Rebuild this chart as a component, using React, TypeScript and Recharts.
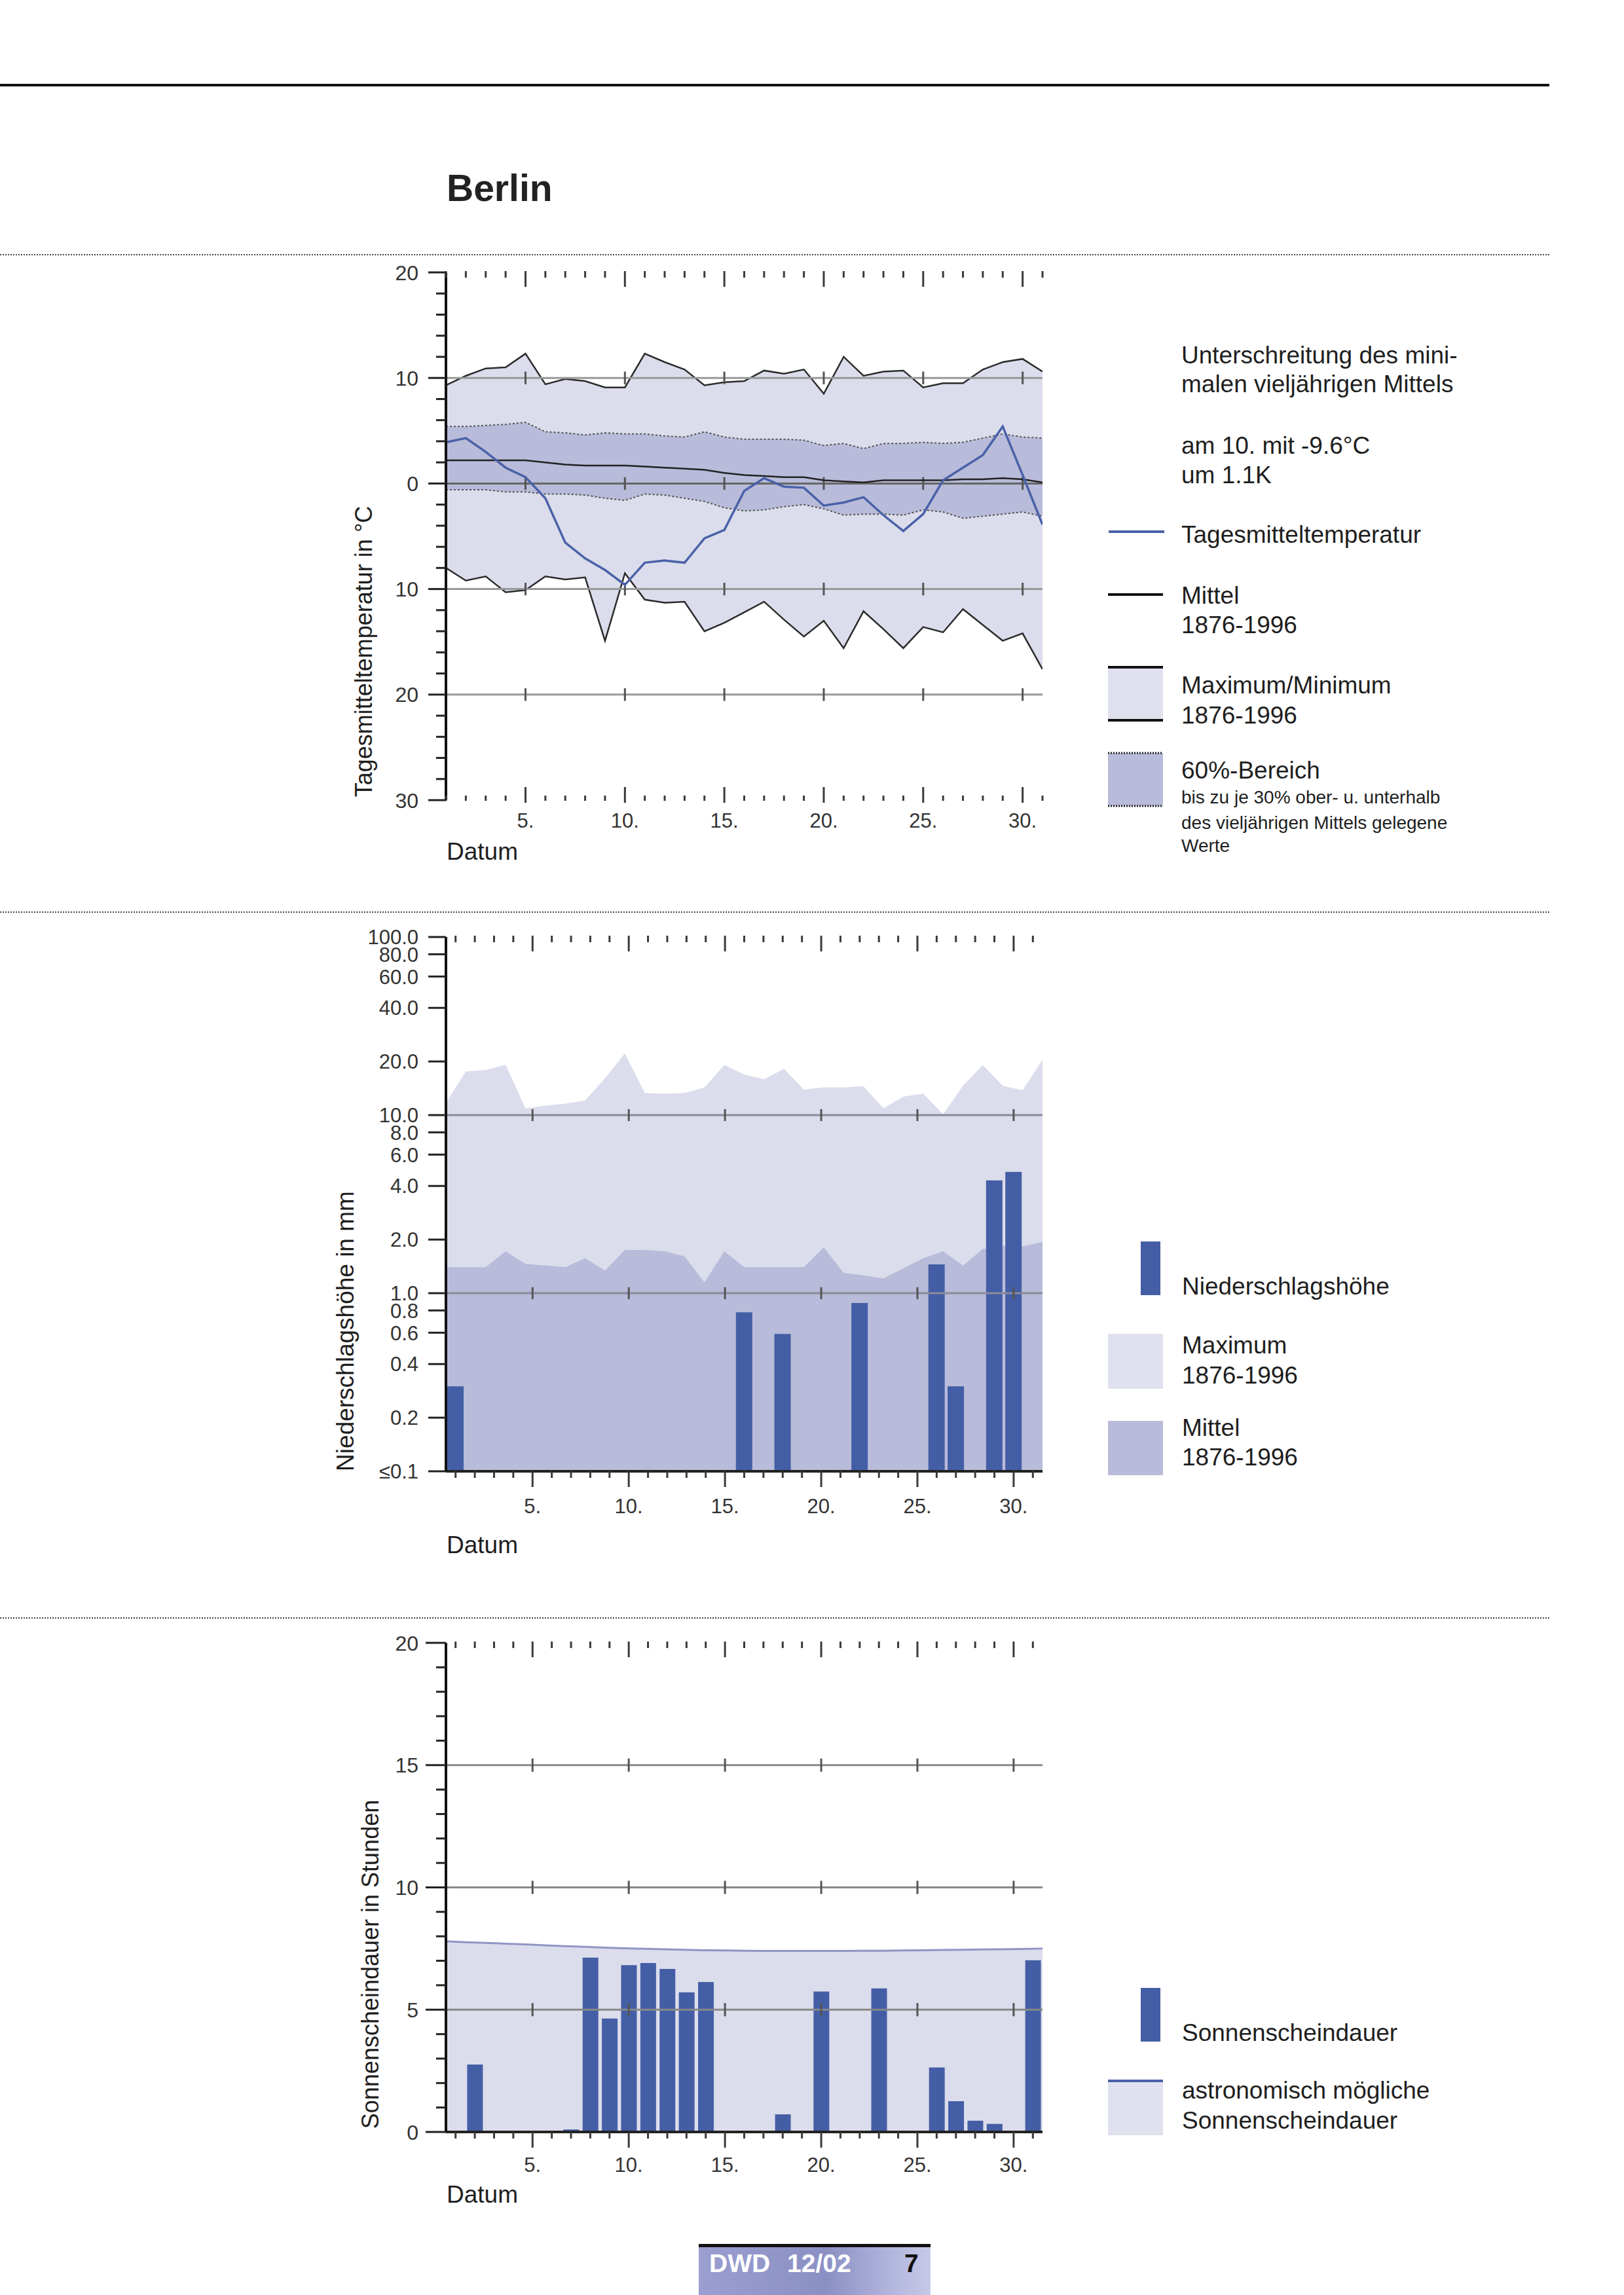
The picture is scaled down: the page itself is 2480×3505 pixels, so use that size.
import React from 'react';
import { ComposedChart, Area, Line, Bar, XAxis, YAxis, ReferenceLine } from 'recharts';

const FONT = '"Liberation Sans", Arial, Helvetica, sans-serif';
const TXT = '#1e1e1e';
const AXC = '#3a3a3a';
const LIGHT = '#dcddec';
const MEDIUM = '#b8bbd9';
const BAR_BLUE = '#445ea6';
const LINE_BLUE = '#4a62a8';

// ---------- categories ----------
const days = [1, 2, 3, 4, 5, 6, 7, 8, 9, 10, 11, 12, 13, 14, 15, 16, 17, 18, 19, 20, 21, 22, 23, 24, 25, 26, 27, 28, 29, 30, 31];
const majorDays = [5, 10, 15, 20, 25, 30];

// ---------- temperature (°C) ----------
const tempMax = [9.3, 10.2, 10.9, 11.0, 12.3, 9.4, 9.9, 9.7, 9.1, 9.1, 12.3, 11.5, 10.8, 9.3, 9.6, 9.7, 10.7, 10.4, 10.8, 8.5, 12.0, 10.2, 10.6, 10.7, 9.1, 9.5, 9.5, 10.8, 11.5, 11.8, 10.6];
const tempMin = [-8.0, -9.2, -8.8, -10.3, -10.1, -8.8, -9.1, -8.9, -14.9, -8.5, -11.0, -11.3, -11.2, -14.0, -13.2, -12.2, -11.2, -12.9, -14.5, -13.0, -15.6, -12.1, -13.8, -15.6, -13.6, -14.1, -11.9, -13.4, -14.9, -14.2, -17.6];
const tempUpper60 = [5.4, 5.4, 5.5, 5.6, 5.8, 4.9, 4.8, 4.6, 4.8, 4.7, 4.7, 4.5, 4.4, 4.9, 4.4, 4.2, 4.2, 4.2, 4.1, 3.6, 3.8, 3.3, 3.8, 3.8, 3.9, 3.8, 3.9, 4.3, 4.7, 4.4, 4.3];
const tempLower60 = [-0.6, -0.6, -0.6, -0.8, -0.8, -1.0, -1.0, -1.1, -1.4, -1.6, -1.0, -1.1, -1.4, -1.7, -2.3, -2.6, -2.5, -2.2, -2.0, -2.4, -3.0, -2.9, -2.9, -3.0, -2.5, -2.7, -3.3, -3.1, -2.9, -2.7, -3.1];
const tempMean = [2.2, 2.2, 2.2, 2.2, 2.2, 2.0, 1.8, 1.7, 1.7, 1.7, 1.6, 1.5, 1.4, 1.3, 1.0, 0.8, 0.7, 0.6, 0.6, 0.3, 0.2, 0.1, 0.3, 0.3, 0.3, 0.3, 0.4, 0.4, 0.5, 0.4, 0.1];
const tempDaily = [3.9, 4.3, 3.0, 1.5, 0.6, -1.4, -5.6, -7.1, -8.2, -9.6, -7.5, -7.3, -7.5, -5.2, -4.4, -0.7, 0.5, -0.3, -0.4, -2.1, -1.8, -1.3, -3.0, -4.5, -2.9, 0.3, 1.5, 2.7, 5.4, 0.8, -3.9];
const tempYTicks = [-30, -28, -26, -24, -22, -20, -18, -16, -14, -12, -10, -8, -6, -4, -2, 0, 2, 4, 6, 8, 10, 12, 14, 16, 18, 20];
const tempGrid = [10, 0, -10, -20];

// ---------- precipitation (mm) ----------
const precipMax = [11.7, 17.6, 17.9, 19.2, 10.9, 11.3, 11.6, 12.1, 16.1, 22.2, 13.3, 13.2, 13.3, 14.3, 19.1, 16.9, 15.9, 18.2, 13.9, 14.3, 14.3, 14.5, 10.9, 12.7, 13.2, 10.1, 14.6, 19.1, 14.6, 13.8, 20.5];
const precipMean = [1.40, 1.40, 1.40, 1.72, 1.46, 1.43, 1.40, 1.57, 1.34, 1.75, 1.75, 1.72, 1.61, 1.15, 1.72, 1.40, 1.40, 1.40, 1.40, 1.81, 1.30, 1.26, 1.21, 1.38, 1.57, 1.72, 1.43, 1.77, 1.85, 1.83, 1.94];
const precipDay = [0.3, null, null, null, null, null, null, null, null, null, null, null, null, null, null, 0.78, null, 0.59, null, null, null, 0.88, null, null, null, 1.45, 0.3, null, 4.3, 4.8, null];
const precipYTicks = [0.1, 0.2, 0.4, 0.6, 0.8, 1, 2, 4, 6, 8, 10, 20, 40, 60, 80, 100];
const precipGrid = [10, 1];

// ---------- sunshine (h) ----------
const sunPossible = [7.80, 7.76, 7.73, 7.70, 7.67, 7.63, 7.60, 7.57, 7.54, 7.51, 7.49, 7.47, 7.45, 7.43, 7.42, 7.41, 7.40, 7.40, 7.40, 7.40, 7.40, 7.41, 7.41, 7.42, 7.43, 7.44, 7.45, 7.46, 7.47, 7.48, 7.50];
const sunDay = [0, 2.76, 0, 0, 0, 0, 0.1, 7.13, 4.64, 6.82, 6.91, 6.67, 5.71, 6.13, 0, 0, 0, 0.72, 0, 5.74, 0, 0, 5.87, 0, 0, 2.64, 1.26, 0.46, 0.33, 0, 7.02];
const sunYTicks = [0, 1, 2, 3, 4, 5, 6, 7, 8, 9, 10, 11, 12, 13, 14, 15, 16, 17, 18, 19, 20];
const sunGrid = [15, 10, 5];

const tempData = days.map((d, i) => ({
  day: d, max: tempMax[i], min: tempMin[i], hi: tempUpper60[i], lo: tempLower60[i], mean: tempMean[i], t: tempDaily[i],
}));
const precipData = days.map((d, i) => ({ day: d, pmax: precipMax[i], pmean: precipMean[i], rain: precipDay[i] }));
const sunData = days.map((d, i) => ({ day: d, possible: sunPossible[i], sun: sunDay[i] }));

// ---------- custom ticks ----------
function makeDayTick(plotH: number, variant: 'temp' | 'base', labelDy: number) {
  return (props: any) => {
    const { x, y, payload } = props;
    const d = payload.value as number;
    const major = d % 5 === 0;
    const top = y - plotH;
    return (
      <g>
        {variant === 'temp' ? (
          <line x1={x} x2={x} y1={y - (major ? 20 : 7)} y2={y + (major ? 4 : 1)} stroke={AXC} strokeWidth={3} />
        ) : (
          <line x1={x} x2={x} y1={y} y2={y + (major ? 24 : 10)} stroke={AXC} strokeWidth={3} />
        )}
        <line x1={x} x2={x} y1={top - 2} y2={top + (major ? 22 : 8)} stroke={AXC} strokeWidth={3} />
        {major && (
          <text x={x} y={y + labelDy} textAnchor="middle" fontSize={31} fill="#333" fontFamily={FONT}>{`${d}.`}</text>
        )}
      </g>
    );
  };
}

function makeYTick(isMajor: (v: number) => boolean, fmt: (v: number) => string, majorLen: number, minorLen: number, fontSize: number) {
  return (props: any) => {
    const { x, y, payload } = props;
    const v = payload.value as number;
    const major = isMajor(v);
    return (
      <g>
        <line x1={x - (major ? majorLen : minorLen)} x2={x} y1={y} y2={y} stroke="#222" strokeWidth={3} />
        {major && (
          <text x={x - 42} y={y} dy="0.36em" textAnchor="end" fontSize={fontSize} fill="#333" fontFamily={FONT}>{fmt(v)}</text>
        )}
      </g>
    );
  };
}

const tempYTick = makeYTick((v) => v % 10 === 0, (v) => String(Math.abs(v)), 27, 15, 32);
const precipYTick = makeYTick(() => true, (v) => (v <= 0.1 ? '\u22640.1' : v.toFixed(1)), 27, 27, 31);
const sunYTick = makeYTick((v) => v % 5 === 0, (v) => String(v), 31, 15, 32);

// ---------- charts ----------
function TempChart() {
  const plotH = 806;
  return (
    <div style={{ position: 'absolute', left: 560, top: 390 }}>
      <ComposedChart width={1100} height={900} data={tempData} margin={{ top: 26, right: 68, bottom: 8, left: 0 }}>
        <XAxis dataKey="day" type="number" domain={[1, 31]} ticks={days} interval={0} height={60}
          tickSize={0} tickMargin={0} axisLine={false} tickLine={false} tick={makeDayTick(plotH, 'temp', 42)} allowDataOverflow />
        <YAxis type="number" domain={[-30, 20]} ticks={tempYTicks} interval={0} width={121}
          tickSize={0} tickMargin={0} tickLine={false} axisLine={{ stroke: '#111', strokeWidth: 4 }} tick={tempYTick} allowDataOverflow />
        <Area type="linear" dataKey={(d: any) => [d.min, d.max]} fill={LIGHT} fillOpacity={1} stroke="#2b2b2b" strokeWidth={2.5}
          dot={false} activeDot={false} isAnimationActive={false} />
        <Area type="linear" dataKey={(d: any) => [d.lo, d.hi]} fill={MEDIUM} fillOpacity={1} stroke="#555" strokeWidth={2}
          strokeDasharray="3 3" dot={false} activeDot={false} isAnimationActive={false} />
        {tempGrid.map((g) => (
          <ReferenceLine key={`g${g}`} y={g} stroke={g === 0 ? '#666' : '#999'} strokeWidth={3} />
        ))}
        {tempGrid.flatMap((g) => majorDays.map((m) => (
          <ReferenceLine key={`c${g}-${m}`} segment={[{ x: m, y: g - 0.6 }, { x: m, y: g + 0.6 }]} stroke="#555" strokeWidth={3} />
        )))}
        <Line type="linear" dataKey="mean" stroke="#222" strokeWidth={2.5} dot={false} activeDot={false} isAnimationActive={false} />
        <Line type="linear" dataKey="t" stroke={LINE_BLUE} strokeWidth={3.5} dot={false} activeDot={false} isAnimationActive={false} />
      </ComposedChart>
    </div>
  );
}

function PrecipChart() {
  const plotH = 816;
  return (
    <div style={{ position: 'absolute', left: 560, top: 1405 }}>
      <ComposedChart width={1100} height={930} data={precipData} margin={{ top: 26, right: 68, bottom: 8, left: 0 }}>
        <XAxis dataKey="day" type="number" domain={[0.5, 31.5]} ticks={days} interval={0} height={80}
          tickSize={0} tickMargin={0} axisLine={{ stroke: '#222', strokeWidth: 4 }} tickLine={false}
          tick={makeDayTick(plotH, 'base', 64)} allowDataOverflow />
        <XAxis xAxisId="area" dataKey="day" type="number" domain={[1, 31]} hide />
        <YAxis type="number" scale="log" domain={[0.1, 100]} ticks={precipYTicks} interval={0} width={121}
          tickSize={0} tickMargin={0} tickLine={false} axisLine={{ stroke: '#111', strokeWidth: 4 }} tick={precipYTick} allowDataOverflow />
        <Area xAxisId="area" type="linear" dataKey="pmax" baseValue="dataMin" fill={LIGHT} fillOpacity={1} stroke="none"
          dot={false} activeDot={false} isAnimationActive={false} />
        <Area xAxisId="area" type="linear" dataKey="pmean" baseValue="dataMin" fill={MEDIUM} fillOpacity={1} stroke="none"
          dot={false} activeDot={false} isAnimationActive={false} />
        {precipGrid.map((g) => (
          <ReferenceLine key={`g${g}`} y={g} stroke="#8a8a9a" strokeWidth={3} />
        ))}
        {precipGrid.flatMap((g) => majorDays.map((m) => (
          <ReferenceLine key={`c${g}-${m}`} segment={[{ x: m, y: g / 1.08 }, { x: m, y: g * 1.08 }]} stroke="#555" strokeWidth={3} />
        )))}
        <Bar dataKey="rain" fill={BAR_BLUE} barSize={25} isAnimationActive={false} />
      </ComposedChart>
    </div>
  );
}

function SunChart() {
  const plotH = 747;
  return (
    <div style={{ position: 'absolute', left: 560, top: 2485 }}>
      <ComposedChart width={1100} height={860} data={sunData} margin={{ top: 24, right: 68, bottom: 9, left: 0 }}>
        <XAxis dataKey="day" type="number" domain={[0.5, 31.5]} ticks={days} interval={0} height={80}
          tickSize={0} tickMargin={0} axisLine={{ stroke: '#222', strokeWidth: 4 }} tickLine={false}
          tick={makeDayTick(plotH, 'base', 61)} allowDataOverflow />
        <XAxis xAxisId="area" dataKey="day" type="number" domain={[1, 31]} hide />
        <YAxis type="number" domain={[0, 20]} ticks={sunYTicks} interval={0} width={121}
          tickSize={0} tickMargin={0} tickLine={false} axisLine={{ stroke: '#111', strokeWidth: 4 }} tick={sunYTick} allowDataOverflow />
        <Area xAxisId="area" type="linear" dataKey="possible" fill={LIGHT} fillOpacity={1} stroke="#9095c4" strokeWidth={3}
          dot={false} activeDot={false} isAnimationActive={false} />
        {sunGrid.map((g) => (
          <ReferenceLine key={`g${g}`} y={g} stroke="#888" strokeWidth={3} />
        ))}
        {sunGrid.flatMap((g) => majorDays.map((m) => (
          <ReferenceLine key={`c${g}-${m}`} segment={[{ x: m, y: g - 0.27 }, { x: m, y: g + 0.27 }]} stroke="#555" strokeWidth={3} />
        )))}
        <Bar dataKey="sun" fill={BAR_BLUE} barSize={24} isAnimationActive={false} />
      </ComposedChart>
    </div>
  );
}

// ---------- page overlay (titles, legends, footer) ----------
function T({ x, y, size = 37, children, weight = 'normal', fill = TXT, anchor = 'start' }: any) {
  return (
    <text x={x} y={y} fontSize={size} fontWeight={weight} fill={fill} fontFamily={FONT} textAnchor={anchor}>{children}</text>
  );
}

function Overlay() {
  return (
    <svg width={2480} height={3505} style={{ position: 'absolute', left: 0, top: 0 }}>
      <defs>
        <linearGradient id="foot" x1="0" y1="0" x2="1" y2="0">
          <stop offset="0" stopColor="#9a9ed0" />
          <stop offset="0.55" stopColor="#8b90c4" />
          <stop offset="0.85" stopColor="#b5b8de" />
          <stop offset="1" stopColor="#c6c9e7" />
        </linearGradient>
      </defs>
      <rect x={0} y={128} width={2366} height={4} fill="#111" />
      {[389, 1393, 2471].map((y) => (
        <line key={y} x1={0} x2={2366} y1={y} y2={y} stroke="#444" strokeWidth={2} strokeDasharray="2 2" />
      ))}
      <T x={682} y={307} size={57} weight="bold" fill="#222">Berlin</T>

      {/* axis titles */}
      <text x={568} y={995} transform="rotate(-90 568 995)" fontSize={36} fill={TXT} fontFamily={FONT} textAnchor="middle">Tagesmitteltemperatur in °C</text>
      <text x={540} y={2033} transform="rotate(-90 540 2033)" fontSize={37} fill={TXT} fontFamily={FONT} textAnchor="middle">Niederschlagshöhe in mm</text>
      <text x={578} y={3000} transform="rotate(-90 578 3000)" fontSize={36} fill={TXT} fontFamily={FONT} textAnchor="middle">Sonnenscheindauer in Stunden</text>
      <T x={682} y={1313}>Datum</T>
      <T x={682} y={2372}>Datum</T>
      <T x={682} y={3364}>Datum</T>

      {/* temperature legend */}
      <T x={1804} y={555}>Unterschreitung des mini-</T>
      <T x={1804} y={599}>malen vieljährigen Mittels</T>
      <T x={1804} y={693}>am 10. mit -9.6°C</T>
      <T x={1804} y={738}>um 1.1K</T>
      <line x1={1693} x2={1778} y1={812} y2={812} stroke={LINE_BLUE} strokeWidth={4} />
      <T x={1804} y={829}>Tagesmitteltemperatur</T>
      <line x1={1692} x2={1776} y1={908} y2={908} stroke="#111" strokeWidth={4} />
      <T x={1804} y={922}>Mittel</T>
      <T x={1804} y={967}>1876-1996</T>
      <rect x={1692} y={1019} width={84} height={81} fill="#e0e1ee" />
      <line x1={1692} x2={1776} y1={1019} y2={1019} stroke="#111" strokeWidth={4} />
      <line x1={1692} x2={1776} y1={1100} y2={1100} stroke="#111" strokeWidth={4} />
      <T x={1804} y={1059}>Maximum/Minimum</T>
      <T x={1804} y={1105}>1876-1996</T>
      <rect x={1692} y={1150} width={84} height={81} fill={MEDIUM} />
      <line x1={1692} x2={1776} y1={1150} y2={1150} stroke="#222" strokeWidth={3} strokeDasharray="2 2" />
      <line x1={1692} x2={1776} y1={1231} y2={1231} stroke="#222" strokeWidth={3} strokeDasharray="2 2" />
      <T x={1804} y={1189}>60%-Bereich</T>
      <T x={1804} y={1227} size={28}>bis zu je 30% ober- u. unterhalb</T>
      <T x={1804} y={1266} size={28}>des vieljährigen Mittels gelegene</T>
      <T x={1804} y={1301} size={28}>Werte</T>

      {/* precipitation legend */}
      <rect x={1742} y={1896} width={30} height={82} fill={BAR_BLUE} />
      <T x={1805} y={1977}>Niederschlagshöhe</T>
      <rect x={1692} y={2037} width={84} height={84} fill="#e0e1ee" />
      <T x={1805} y={2067}>Maximum</T>
      <T x={1805} y={2113}>1876-1996</T>
      <rect x={1692} y={2170} width={84} height={83} fill={MEDIUM} />
      <T x={1805} y={2193}>Mittel</T>
      <T x={1805} y={2238}>1876-1996</T>

      {/* sunshine legend */}
      <rect x={1742} y={3036} width={30} height={82} fill={BAR_BLUE} />
      <T x={1805} y={3117}>Sonnenscheindauer</T>
      <rect x={1692} y={3176} width={84} height={85} fill="#e0e1ee" />
      <rect x={1692} y={3176} width={84} height={4} fill={LINE_BLUE} />
      <T x={1805} y={3205}>astronomisch mögliche</T>
      <T x={1805} y={3251}>Sonnenscheindauer</T>

      {/* footer */}
      <rect x={1067} y={3427} width={354} height={5} fill="#111" />
      <rect x={1067} y={3432} width={354} height={73} fill="url(#foot)" />
      <T x={1083} y={3470} size={39} weight="bold" fill="#ffffff">DWD</T>
      <T x={1202} y={3470} size={39} weight="bold" fill="#ffffff">12/02</T>
      <T x={1381} y={3470} size={39} weight="bold" fill="#111">7</T>
    </svg>
  );
}

export default function App() {
  return (
    <div style={{ position: 'absolute', left: 0, top: 0, width: 2480, height: 3505, background: '#fff', overflow: 'hidden' }}>
      <Overlay />
      <TempChart />
      <PrecipChart />
      <SunChart />
    </div>
  );
}
